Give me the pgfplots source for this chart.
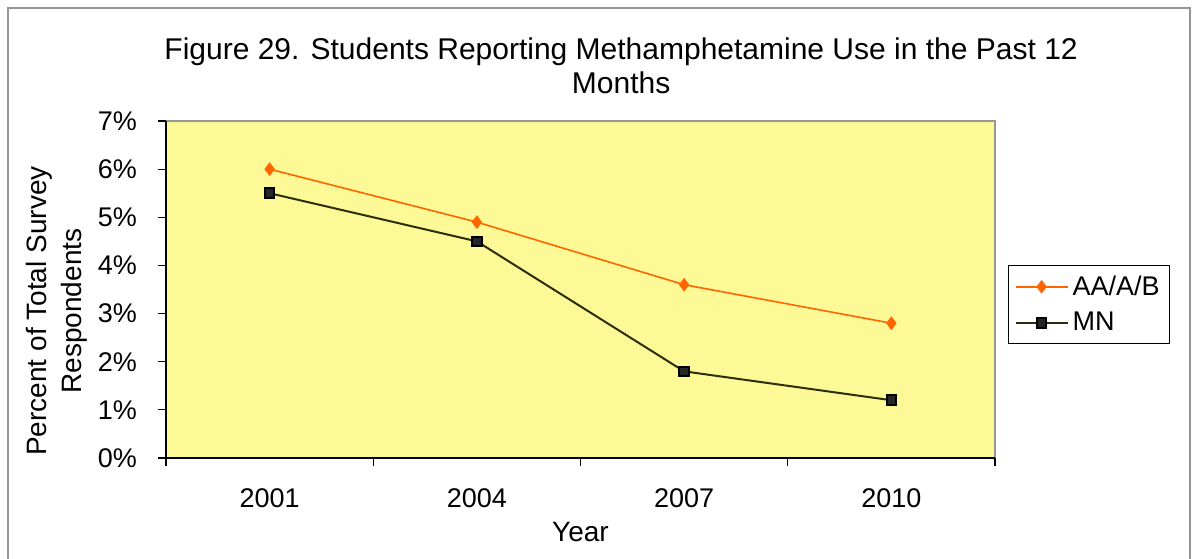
\documentclass[border=0pt]{standalone}
\usepackage{fontspec}
\setmainfont{Liberation Sans}
\usepackage{pgfplots}
\pgfplotsset{compat=1.18}
\definecolor{plotbg}{RGB}{252,249,150}
\definecolor{orangeline}{RGB}{255,102,0}
\definecolor{mnline}{RGB}{45,45,10}
\definecolor{framegray}{RGB}{150,150,150}
\begin{document}
\begin{tikzpicture}
\path[use as bounding box] (-83pt,-50pt) rectangle (515pt,229pt);
\draw[framegray, line width=1pt] (-79pt,-53pt) rectangle (512pt,225pt);
\begin{axis}[
  at={(0pt,0pt)}, anchor=south west,
  scale only axis, width=414.5pt, height=168.5pt,
  xmin=-0.5, xmax=3.5, ymin=0, ymax=7,
  ytick={0,1,...,7},
  yticklabel={\pgfmathprintnumber{\tick}\%},
  /pgf/number format/assume math mode=true,
  xtick={-0.5,0.5,1.5,2.5,3.5},
  xticklabels={2001,2004,2007,2010},
  x tick label as interval,
  axis x line*=bottom, axis y line*=left,
  axis line style={-, black, line width=0.8pt},
  axis background/.style={fill=plotbg, draw=framegray, line width=0.8pt},
  tick align=outside, major tick length=4pt,
  tick style={black, line width=0.6pt},
  tick label style={font=\fontsize{13.5}{16}\selectfont},
  xticklabel style={yshift=-8pt},
  yticklabel style={xshift=-7pt},
  title={Figure 29. Students Reporting Methamphetamine Use in the Past 12\\Months},
  title style={at={(0.549,1.128)}, anchor=center, align=center, font=\fontsize{15}{17}\selectfont},
  xlabel={Year},
  xlabel style={at={(0.5,-0.2196)}, anchor=center, font=\fontsize{14}{16}\selectfont},
  ylabel={Percent of Total Survey\\Respondents},
  every axis y label/.style={at={(-0.1315,0.436)}, rotate=90, anchor=center, align=center, font=\fontsize{14}{17.5}\selectfont},
  legend style={at={(1.0157,0.573)}, anchor=north west, draw=black, line width=0.6pt, fill=white,
    font=\fontsize{13.5}{16}\selectfont, row sep=3pt, inner sep=3pt},
  legend cell align=left,
  legend image code/.code={\draw[mark repeat=2, mark phase=2] plot coordinates {(0pt,0pt)(13pt,0pt)(26pt,0pt)};},
]
\addplot[orangeline, line width=0.8pt, mark=diamond*, mark size=2.8pt, mark options={fill=orangeline, draw=orangeline, solid}]
  coordinates {(0,6.0)(1,4.9)(2,3.6)(3,2.8)};
\addlegendentry{AA/A/B}
\addplot[mnline, line width=1pt, mark=square*, mark size=2.4pt, mark options={fill=black!85, draw=black, solid}]
  coordinates {(0,5.5)(1,4.5)(2,1.8)(3,1.2)};
\addlegendentry{MN}
\end{axis}
\end{tikzpicture}
\end{document}
